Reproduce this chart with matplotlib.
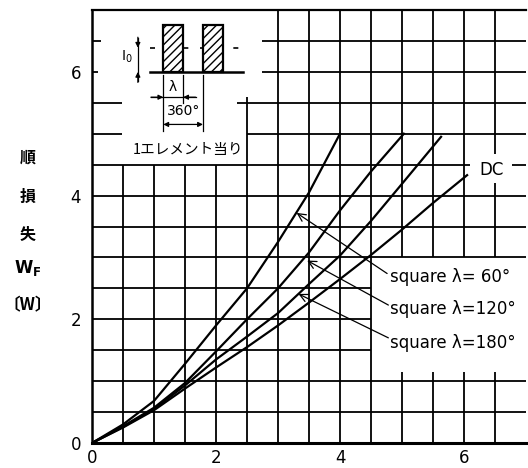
import numpy as np
import matplotlib.pyplot as plt
from matplotlib.patches import Rectangle

plt.rcParams['hatch.linewidth'] = 1.0

# 順損失 WF [W] vs 電流 (読み取り値)
x_sq60 = [0, 0.5, 1.0, 1.5, 2.0, 2.5, 3.0, 3.5, 4.0]
y_sq60 = [0, 0.30, 0.68, 1.28, 1.90, 2.50, 3.25, 4.05, 5.00]

x_sq120 = [0, 0.5, 1.0, 1.5, 2.0, 2.5, 3.0, 3.5, 4.0, 4.5, 5.03]
y_sq120 = [0, 0.27, 0.57, 0.97, 1.48, 2.00, 2.50, 3.08, 3.76, 4.39, 5.00]

x_sq180 = [0, 0.5, 1.0, 1.5, 2.0, 2.5, 3.0, 3.5, 4.0, 4.5, 5.0, 5.63]
y_sq180 = [0, 0.26, 0.55, 0.93, 1.35, 1.72, 2.10, 2.57, 3.03, 3.59, 4.19, 4.95]

x_dc = [0, 0.5, 1.0, 1.5, 2.0, 2.5, 3.0, 3.5, 4.0, 4.5, 5.0, 5.5, 6.05]
y_dc = [0, 0.25, 0.53, 0.88, 1.22, 1.55, 1.90, 2.27, 2.65, 3.04, 3.45, 3.88, 4.33]

labels = ['square λ= 60°', 'square λ=120°', 'square λ=180°']
tick_vals = [0, 2, 4, 6]

fig = plt.figure(figsize=(5.28, 4.68), dpi=100)
ax = fig.add_axes([92 / 528, 25 / 468, 434 / 528, 433 / 468])
ax.set_xlim(0, 7)
ax.set_ylim(0, 7)

# グリッド (図中の空白部分を避けて描く)
glw = 1.3
hsegs = {
    0.5: [(0, 7)], 1.0: [(0, 7)],
    1.5: [(0, 4.5)], 2.0: [(0, 4.5)], 2.5: [(0, 4.5)],
    3.0: [(0, 7)], 3.5: [(0, 7)], 4.0: [(0, 7)],
    4.5: [(0, 6.1), (6.78, 7)],
    5.0: [(0, 0.48), (2.5, 7)],
    5.5: [(0, 0.48), (2.34, 7)],
    6.0: [(0, 0.1), (2.74, 7)],
    6.5: [(0, 0.15), (2.74, 7)],
}
vsegs = {
    0.5: [(0, 4.5)], 1.0: [(0, 4.5)], 1.5: [(0, 4.5)], 2.0: [(0, 4.5)],
    2.5: [(0, 5.6)],
    3.0: [(0, 7)], 3.5: [(0, 7)], 4.0: [(0, 7)], 4.5: [(0, 7)],
    5.0: [(0, 1.15), (3.0, 7)], 5.5: [(0, 1.15), (3.0, 7)],
    6.0: [(0, 1.15), (3.0, 7)],
    6.5: [(0, 1.15), (3.0, 4.2), (4.68, 7)],
}
for yv, segs in hsegs.items():
    for a, b in segs:
        ax.plot([a, b], [yv, yv], color='black', lw=glw, zorder=1,
                solid_capstyle='butt')
for xv, segs in vsegs.items():
    for a, b in segs:
        ax.plot([xv, xv], [a, b], color='black', lw=glw, zorder=1,
                solid_capstyle='butt')

# 曲線
for xs, ys in [(x_sq60, y_sq60), (x_sq120, y_sq120),
               (x_sq180, y_sq180), (x_dc, y_dc)]:
    ax.plot(xs, ys, color='black', lw=1.6, zorder=3,
            solid_joinstyle='round')

# ラベルと引出線
tips = [(3.30, 3.72), (3.47, 2.95), (3.33, 2.41)]
starts = [(4.76, 2.74), (4.78, 2.23), (4.78, 1.70)]
text_y = [2.68, 2.16, 1.62]
for lab, tip, st, ty in zip(labels, tips, starts, text_y):
    ax.annotate('', xy=tip, xytext=st,
                arrowprops=dict(arrowstyle='->', lw=0.9, color='black',
                                mutation_scale=14, shrinkA=0, shrinkB=0),
                zorder=4)
    ax.text(4.81, ty, lab, fontsize=12, va='center', ha='left')

ax.text(6.45, 4.42, 'DC', fontsize=12, va='center', ha='center')

# 挿入図 (方形波)
ax.plot([0.94, 2.44], [6.0, 6.0], color='black', lw=1.8, zorder=3)
for x0 in [1.15, 1.79]:
    ax.add_patch(Rectangle((x0, 6.0), 0.32, 0.75, facecolor='white',
                           edgecolor='black', hatch='////', lw=1.6, zorder=3))
ax.plot([0.94, 2.42], [6.39, 6.39], color='black', lw=1.2,
        linestyle=(0, (3, 7)), zorder=2)
# I0 の寸法
ax.plot([0.74, 0.74], [5.85, 6.55], color='black', lw=0.9)
ax.annotate('', xy=(0.74, 6.39), xytext=(0.74, 6.56),
            arrowprops=dict(arrowstyle='-|>', lw=0.9, color='black',
                            mutation_scale=7, shrinkA=0, shrinkB=0))
ax.annotate('', xy=(0.74, 6.0), xytext=(0.74, 5.83),
            arrowprops=dict(arrowstyle='-|>', lw=0.9, color='black',
                            mutation_scale=7, shrinkA=0, shrinkB=0))
ax.text(0.56, 6.24, 'I$_0$', fontsize=10, ha='center', va='center')
# λ と 360° の寸法
ax.plot([1.15, 1.15], [5.05, 5.95], color='black', lw=0.9)
ax.plot([1.47, 1.47], [5.5, 5.95], color='black', lw=0.9)
ax.plot([1.79, 1.79], [5.05, 5.95], color='black', lw=0.9)
ax.annotate('', xy=(1.15, 5.59), xytext=(0.95, 5.59),
            arrowprops=dict(arrowstyle='-|>', lw=0.9, color='black',
                            mutation_scale=7, shrinkA=0, shrinkB=0))
ax.annotate('', xy=(1.47, 5.59), xytext=(1.67, 5.59),
            arrowprops=dict(arrowstyle='-|>', lw=0.9, color='black',
                            mutation_scale=7, shrinkA=0, shrinkB=0))
ax.plot([0.95, 1.67], [5.59, 5.59], color='black', lw=0.9)
ax.annotate('', xy=(1.15, 5.15), xytext=(1.79, 5.15),
            arrowprops=dict(arrowstyle='<|-|>', lw=0.9, color='black',
                            mutation_scale=7, shrinkA=0, shrinkB=0))
ax.text(1.31, 5.76, 'λ', fontsize=10, ha='center', va='center')
ax.text(1.47, 5.36, '360°', fontsize=10, ha='center', va='center')
ax.text(1.55, 4.74, '1エレメント当り', fontsize=10.5, ha='center',
        va='center', family=['Noto Sans CJK JP', 'DejaVu Sans'])

# 軸
ax.set_xticks(tick_vals)
ax.set_yticks(tick_vals)
ax.tick_params(length=0, labelsize=12)
ax.tick_params(axis='x', pad=4)
ax.tick_params(axis='y', pad=8)
ax.spines['right'].set_visible(False)
ax.spines['left'].set_linewidth(1.8)
ax.spines['bottom'].set_linewidth(2.2)
ax.spines['top'].set_linewidth(1.6)

# 縦軸ラベル (縦書き)
ylab = ['順', '損', '失']
ylab_py = [158, 197, 235]
for ch, py in zip(ylab, ylab_py):
    fig.text(28 / 528, 1 - py / 468, ch, fontsize=11.5, ha='center',
             va='center', fontweight='bold',
             family=['Noto Sans CJK JP', 'DejaVu Sans'])
fig.text(28 / 528, 1 - 268 / 468, 'W$_\\mathbf{F}$', fontsize=12,
         ha='center', va='center', fontweight='bold')
fig.text(28 / 528, 1 - 305 / 468, '〔W〕', fontsize=12, ha='center',
         va='center', fontweight='bold',
         family=['Noto Sans CJK JP', 'DejaVu Sans'])

fig.savefig('out.png', dpi=100)
